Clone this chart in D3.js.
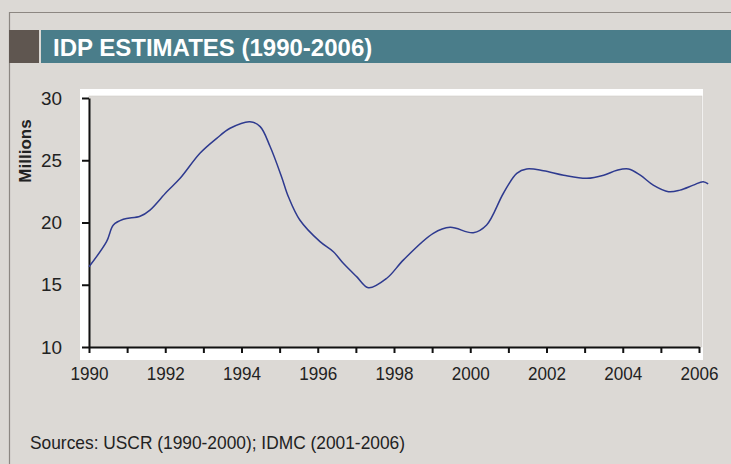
<!DOCTYPE html>
<html>
<head>
<meta charset="utf-8">
<script src="https://cdn.jsdelivr.net/npm/d3@7"></script>
<style>
  body { margin: 0; background: #dcd9d5; }
  svg { display: block; }
</style>
</head>
<body>
<svg id="chart" width="731" height="464"></svg>
<script>
// IDP estimates, millions
const years = [1990, 1990.46, 1990.64, 1990.9, 1991.34, 1991.6, 1992.04, 1992.39, 1992.91, 1993.35, 1993.7,
  1994.22, 1994.49, 1994.75, 1995.05, 1995.23, 1995.53, 1996.06, 1996.41, 1996.67, 1997.02, 1997.33,
  1997.81, 1998.25, 1999.03, 1999.47, 2000.08, 2000.43, 2000.87, 2001.22, 2001.48, 2001.92, 2002.45,
  2003.06, 2003.5, 2003.85, 2004.15, 2004.46, 2004.8, 2005.2, 2005.5, 2005.85, 2006.11, 2006.24];
const millions = [16.45, 18.46, 19.8, 20.26, 20.5, 21.0, 22.47, 23.55, 25.56, 26.76, 27.57,
  28.1, 27.7, 26.1, 23.68, 22.07, 20.2, 18.46, 17.65, 16.72, 15.65, 14.76,
  15.52, 17.0, 19.13, 19.61, 19.18, 19.8, 22.35, 23.95, 24.3, 24.16, 23.8,
  23.55, 23.8, 24.2, 24.3, 23.8, 23.0, 22.47, 22.6, 23.0, 23.28, 23.1];
const yTicks = [10, 15, 20, 25, 30];
const xTicks = d3.range(1990, 2007);
const xLabels = [1990, 1992, 1994, 1996, 1998, 2000, 2002, 2004, 2006];

const title = "IDP ESTIMATES (1990-2006)";
const yTitle = "Millions";
const source = "Sources: USCR (1990-2000); IDMC (2001-2006)";

const svg = d3.select("#chart");
const bodyFont = "Liberation Sans, Arial, sans-serif";

// cadre
svg.append("line").attr("x1", 9).attr("x2", 731).attr("y1", 12.5).attr("y2", 12.5)
  .attr("stroke", "#8c8782").attr("stroke-width", 1.2);
svg.append("line").attr("x1", 9.5).attr("x2", 9.5).attr("y1", 12).attr("y2", 464)
  .attr("stroke", "#8c8782").attr("stroke-width", 1.2);

// bandeau titre
svg.append("rect").attr("x", 9).attr("y", 30).attr("width", 30).attr("height", 33).attr("fill", "#5f5650");
svg.append("rect").attr("x", 41).attr("y", 30).attr("width", 690).attr("height", 33).attr("fill", "#4a7d8a");
svg.append("text")
  .attr("x", 53).attr("y", 56)
  .style("font-family", bodyFont)
  .style("font-weight", "bold")
  .style("font-size", "24px")
  .attr("fill", "#ffffff")
  .text(title);

// zone du graphique
const plot = { left: 89, right: 699, top: 98, bottom: 347 };

svg.append("rect").attr("x", 80).attr("y", 89).attr("width", 623).attr("height", 271).attr("fill", "#ffffff");
svg.append("rect").attr("x", 89).attr("y", 96).attr("width", 613).attr("height", 251)
  .attr("fill", "#dcd9d5").attr("stroke", "#cfccc8").attr("stroke-width", 0.6);

const x = d3.scaleLinear().domain([1990, 2006]).range([plot.left, plot.right]);
const y = d3.scaleLinear().domain([10, 30]).range([plot.bottom, plot.top]);

// eixo X
const xAxis = d3.axisBottom(x)
  .tickValues(xTicks)
  .tickSize(6)
  .tickSizeOuter(0)
  .tickFormat(d => xLabels.includes(d) ? d : "");

const gx = svg.append("g")
  .attr("transform", `translate(0,${plot.bottom})`)
  .call(xAxis);
gx.select(".domain").attr("stroke", "#111").attr("stroke-width", 2);
gx.selectAll(".tick line").attr("stroke", "#111").attr("stroke-width", 2);
gx.selectAll(".tick text")
  .attr("y", 20)
  .style("font-family", bodyFont)
  .style("font-size", "19px")
  .attr("fill", "#222")
  .filter(d => xLabels.includes(d))
  .attr("textLength", 38)
  .attr("lengthAdjust", "spacingAndGlyphs");

// eixo Y
const yAxis = d3.axisLeft(y)
  .tickValues(yTicks)
  .tickSize(7)
  .tickSizeOuter(0)
  .tickPadding(20);

const gy = svg.append("g")
  .attr("transform", `translate(${plot.left},0)`)
  .call(yAxis);
gy.select(".domain").attr("stroke", "#111").attr("stroke-width", 2);
gy.selectAll(".tick line").attr("stroke", "#111").attr("stroke-width", 2);
gy.selectAll(".tick text")
  .style("font-family", bodyFont)
  .style("font-size", "19px")
  .attr("fill", "#222")
  .attr("textLength", 21)
  .attr("lengthAdjust", "spacingAndGlyphs");

// rótulo do eixo Y
svg.append("text")
  .attr("transform", "translate(31,151) rotate(-90)")
  .attr("text-anchor", "middle")
  .style("font-family", bodyFont)
  .style("font-weight", "bold")
  .style("font-size", "17px")
  .attr("fill", "#222")
  .text(yTitle);

// courbe
const points = years.map((yr, i) => ({ year: yr, value: millions[i] }));
const line = d3.line()
  .x(d => x(d.year))
  .y(d => y(d.value))
  .curve(d3.curveCatmullRom.alpha(0.5));

svg.append("path")
  .datum(points)
  .attr("d", line)
  .attr("fill", "none")
  .attr("stroke", "#2e3a8f")
  .attr("stroke-width", 1.5);

// source
svg.append("text")
  .attr("x", 30).attr("y", 449)
  .style("font-family", bodyFont)
  .style("font-size", "19px")
  .attr("fill", "#222")
  .attr("textLength", 375)
  .attr("lengthAdjust", "spacingAndGlyphs")
  .text(source);
</script>
</body>
</html>
